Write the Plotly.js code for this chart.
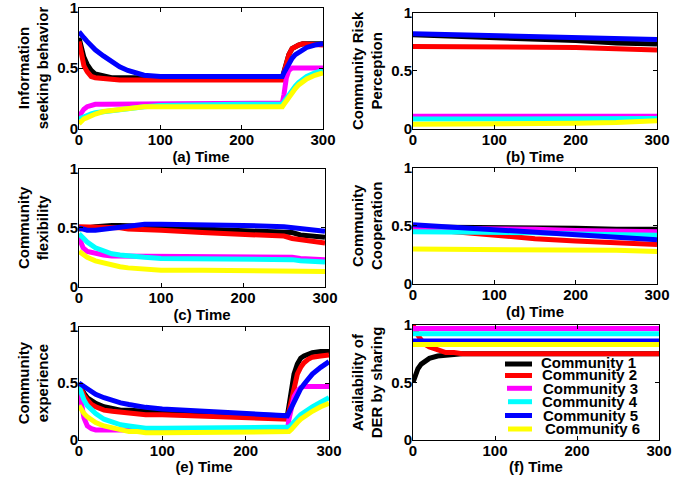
<!DOCTYPE html>
<html><head><meta charset="utf-8">
<script src="https://cdn.plot.ly/plotly-3.0.1.min.js"></script>
<style>html,body{margin:0;padding:0;background:#fff}#plot{width:699px;height:481px}</style>
</head><body><div id="plot"></div>
<script>
const seriesNames = ["Community 1","Community 2","Community 3","Community 4","Community 5","Community 6"];
const seriesColors = ["#000000","#ff0000","#ff00ff","#00ffff","#0000ff","#ffff00"];

const timeA = [0,3,6,10,15,20,30,40,50,60,70,80,100,150,200,250,252,255,258,262,266,270,275,280,290,300];
const timeB = [0,50,100,150,200,250,300];
const timeC = [0,5,10,20,30,40,50,60,80,100,150,200,250,260,270,280,290,300];
const timeF = [0,3,6,10,15,20,30,40,50,60,100,200,300];

// (a) Information seeking behavior
const infoC1 = [0.75,0.66,0.59,0.53,0.48,0.45,0.43,0.42,0.42,0.42,0.42,0.42,0.42,0.42,0.42,0.42,0.47,0.55,0.61,0.66,0.68,0.69,0.70,0.70,0.70,0.70];
const infoC2 = [0.72,0.60,0.52,0.47,0.43,0.42,0.41,0.40,0.40,0.40,0.40,0.40,0.40,0.40,0.40,0.40,0.46,0.55,0.61,0.66,0.68,0.69,0.70,0.70,0.70,0.69];
const infoC3 = [0.10,0.13,0.16,0.18,0.19,0.20,0.20,0.20,0.20,0.20,0.20,0.20,0.20,0.20,0.20,0.21,0.28,0.42,0.48,0.50,0.50,0.50,0.50,0.50,0.50,0.50];
const infoC4 = [0.08,0.09,0.10,0.11,0.12,0.13,0.14,0.15,0.16,0.17,0.18,0.18,0.19,0.20,0.20,0.20,0.22,0.25,0.28,0.32,0.35,0.38,0.41,0.43,0.46,0.48];
const infoC5 = [0.80,0.77,0.75,0.72,0.68,0.65,0.60,0.55,0.51,0.48,0.46,0.44,0.43,0.43,0.43,0.43,0.46,0.50,0.54,0.58,0.61,0.63,0.65,0.67,0.69,0.70];
const infoC6 = [0.04,0.06,0.08,0.09,0.11,0.12,0.14,0.15,0.16,0.17,0.17,0.18,0.18,0.18,0.18,0.18,0.20,0.23,0.26,0.30,0.33,0.36,0.39,0.41,0.44,0.46];

// (b) Community Risk Perception
const riskC1 = [0.81,0.80,0.79,0.77,0.76,0.74,0.73];
const riskC2 = [0.71,0.71,0.70,0.70,0.70,0.69,0.68];
const riskC3 = [0.11,0.11,0.11,0.11,0.11,0.11,0.11];
const riskC4 = [0.085,0.085,0.085,0.085,0.085,0.088,0.09];
const riskC5 = [0.82,0.81,0.80,0.79,0.79,0.78,0.77];
const riskC6 = [0.04,0.04,0.045,0.05,0.05,0.055,0.07];

// (c) Community flexibility
const flexC1 = [0.49,0.49,0.50,0.51,0.52,0.52,0.52,0.52,0.51,0.51,0.49,0.48,0.47,0.46,0.44,0.43,0.42,0.42];
const flexC2 = [0.51,0.51,0.51,0.51,0.50,0.50,0.50,0.49,0.49,0.48,0.46,0.45,0.43,0.41,0.40,0.39,0.38,0.37];
const flexC3 = [0.42,0.33,0.30,0.28,0.27,0.26,0.26,0.26,0.25,0.25,0.25,0.25,0.25,0.25,0.24,0.24,0.23,0.23];
const flexC4 = [0.45,0.41,0.38,0.33,0.30,0.28,0.27,0.26,0.25,0.24,0.24,0.23,0.23,0.23,0.22,0.22,0.21,0.21];
const flexC5 = [0.50,0.49,0.48,0.48,0.49,0.50,0.51,0.52,0.53,0.53,0.53,0.52,0.51,0.50,0.49,0.48,0.48,0.47];
const flexC6 = [0.30,0.27,0.25,0.22,0.20,0.18,0.17,0.16,0.15,0.14,0.14,0.14,0.13,0.13,0.13,0.13,0.13,0.13];

// (d) Community Cooperation
const coopC1 = [0.49,0.49,0.48,0.48,0.48,0.47,0.47];
const coopC2 = [0.48,0.45,0.41,0.39,0.37,0.35,0.34];
const coopC3 = [0.48,0.48,0.47,0.47,0.46,0.46,0.45];
const coopC4 = [0.45,0.45,0.44,0.44,0.43,0.43,0.42];
const coopC5 = [0.51,0.49,0.46,0.44,0.42,0.40,0.38];
const coopC6 = [0.30,0.30,0.30,0.30,0.29,0.29,0.28];

// (e) Community experience
const expC1 = [0.50,0.45,0.41,0.37,0.34,0.32,0.29,0.27,0.26,0.26,0.25,0.25,0.24,0.23,0.22,0.21,0.30,0.45,0.58,0.67,0.72,0.74,0.76,0.77,0.78,0.78];
const expC2 = [0.50,0.44,0.39,0.35,0.31,0.29,0.26,0.25,0.24,0.23,0.23,0.22,0.22,0.21,0.19,0.18,0.25,0.36,0.47,0.58,0.64,0.68,0.71,0.73,0.74,0.75];
const expC3 = [0.45,0.30,0.19,0.12,0.095,0.085,0.085,0.085,0.085,0.085,0.085,0.085,0.085,0.085,0.085,0.085,0.18,0.30,0.38,0.43,0.46,0.47,0.47,0.47,0.47,0.47];
const expC4 = [0.47,0.40,0.35,0.30,0.26,0.23,0.18,0.15,0.13,0.12,0.11,0.10,0.10,0.10,0.10,0.10,0.11,0.13,0.16,0.19,0.22,0.24,0.27,0.29,0.33,0.37];
const expC5 = [0.50,0.49,0.47,0.45,0.42,0.40,0.37,0.345,0.325,0.31,0.295,0.285,0.27,0.25,0.23,0.21,0.24,0.29,0.34,0.40,0.45,0.49,0.54,0.58,0.64,0.69];
const expC6 = [0.30,0.26,0.23,0.20,0.17,0.15,0.12,0.10,0.08,0.07,0.07,0.06,0.06,0.06,0.06,0.06,0.07,0.09,0.12,0.15,0.18,0.20,0.23,0.25,0.29,0.32];

// (f) Availability of DER by sharing
const derC1 = [0.50,0.57,0.62,0.66,0.69,0.71,0.73,0.74,0.75,0.75,0.75,0.75,0.75];
const derC2 = [1.00,0.95,0.91,0.87,0.83,0.81,0.78,0.76,0.76,0.75,0.75,0.75,0.75];
const derC3 = [0.97,0.97,0.97,0.97,0.97,0.97,0.97,0.97,0.97,0.97,0.97,0.97,0.97];
const derC4 = [0.925,0.925,0.925,0.925,0.925,0.925,0.925,0.925,0.925,0.925,0.925,0.925,0.925];
const derC5 = [0.86,0.86,0.86,0.86,0.86,0.86,0.86,0.86,0.86,0.86,0.86,0.86,0.86];
const derC6 = [0.83,0.83,0.83,0.83,0.83,0.83,0.83,0.83,0.83,0.83,0.83,0.83,0.83];

const xTickVals = [0,100,200,300];
const yTickVals = [0,0.5,1];
const yTickText = ["0","0.5","1"];

const panels = [
  {x: timeA, ys: [infoC1,infoC2,infoC3,infoC4,infoC5,infoC6], xt: "(a) Time", yt: "Information<br>seeking behavior"},
  {x: timeB, ys: [riskC1,riskC2,riskC3,riskC4,riskC5,riskC6], xt: "(b) Time", yt: "Community Risk<br>Perception"},
  {x: timeC, ys: [flexC1,flexC2,flexC3,flexC4,flexC5,flexC6], xt: "(c) Time", yt: "Community<br>flexibility"},
  {x: timeB, ys: [coopC1,coopC2,coopC3,coopC4,coopC5,coopC6], xt: "(d) Time", yt: "Community<br>Cooperation"},
  {x: timeA, ys: [expC1,expC2,expC3,expC4,expC5,expC6], xt: "(e) Time", yt: "Community<br>experience"},
  {x: timeF, ys: [derC1,derC2,derC3,derC4,derC5,derC6], xt: "(f) Time", yt: "Availability of<br>DER by sharing"}
];

const W = 699, H = 481;
// pixel boxes [left, right, top, bottom]
const boxes = [
  [79,323,7.5,128.5],[413,657,12.7,129],
  [79,325,169,286.7],[413,657,167.7,284],
  [79,329,326.7,439.5],[413,659,325,440]
];

const FONT = "Liberation Sans, Arial, Helvetica, sans-serif";
const traces = [];
const layout = {
  width: W, height: H, margin: {l:0,r:0,t:0,b:0},
  paper_bgcolor: "#fff", plot_bgcolor: "#fff",
  showlegend: false, font: {family: FONT, size: 15, color: "#000", weight: 700},
  shapes: [], annotations: []
};

panels.forEach((p, i) => {
  const n = i + 1;
  const xa = "xaxis" + (n === 1 ? "" : n), ya = "yaxis" + (n === 1 ? "" : n);
  const xr = "x" + (n === 1 ? "" : n), yr = "y" + (n === 1 ? "" : n);
  const b = boxes[i];
  p.ys.forEach((y, k) => {
    traces.push({x: p.x, y: y, xaxis: xr, yaxis: yr, type: "scatter", mode: "lines",
      name: seriesNames[k], line: {color: seriesColors[k], width: 5}, hoverinfo: "skip"});
  });
  const common = {showline: true, mirror: "ticks", linecolor: "#000", linewidth: 1,
    ticks: "inside", ticklen: 4, tickcolor: "#000", showgrid: false, zeroline: false,
    ticklabeloverflow: "allow", ticklabelstandoff: -3,
    tickfont: {family: FONT, size: 15, color: "#000", weight: 700}, fixedrange: true};
  layout[xa] = Object.assign({}, common, {domain: [b[0]/W, b[1]/W], range: [0,300],
    tickvals: xTickVals, anchor: yr,
    title: {text: p.xt, standoff: 3, font: {family: FONT, size: 15, weight: 700}}});
  layout[ya] = Object.assign({}, common, {domain: [1-b[3]/H, 1-b[2]/H], range: [0,1],
    tickvals: yTickVals, ticktext: yTickText, anchor: xr,
    title: {text: p.yt, standoff: 4, font: {family: FONT, size: 15, weight: 700}}});
});

// legend drawn inside panel (f)
const legLineY = [364,375.5,388.3,401.7,415.5,429];
const legLineX0 = [505,505,507,508,505,508];
const legTextY = [362,374.5,388,401.5,415,428.5];
const legTextX = [539,539.5,540.5,540,540.5,542.5];
seriesNames.forEach((nm, k) => {
  layout.shapes.push({type: "line", xref: "paper", yref: "paper",
    x0: legLineX0[k]/W, x1: 532/W, y0: 1-legLineY[k]/H, y1: 1-legLineY[k]/H,
    line: {color: seriesColors[k], width: 5}});
  layout.annotations.push({xref: "paper", yref: "paper", x: legTextX[k]/W, y: 1-legTextY[k]/H,
    xanchor: "left", yanchor: "middle", text: nm, showarrow: false,
    font: {family: FONT, size: 15, color: "#000", weight: 700}});
});

Plotly.newPlot("plot", traces, layout, {staticPlot: true, displayModeBar: false});
</script></body></html>
